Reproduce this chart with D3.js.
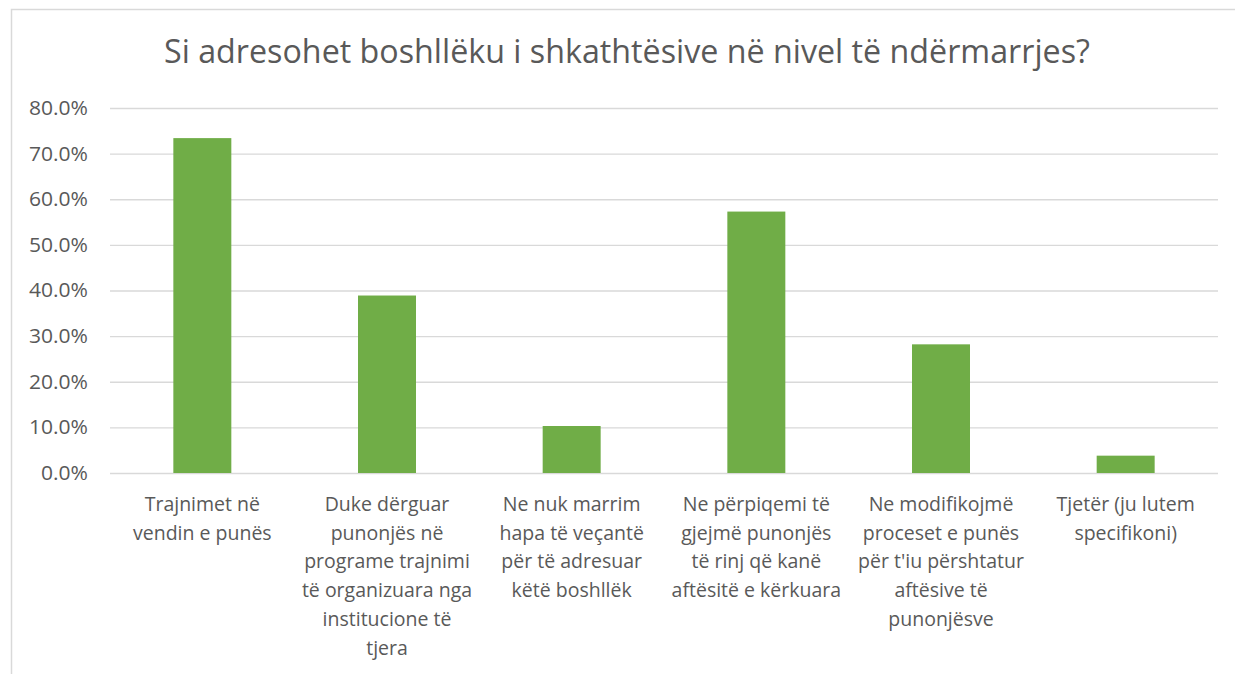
<!DOCTYPE html>
<html>
<head>
<meta charset="utf-8">
<script src="https://cdn.jsdelivr.net/npm/d3@7"></script>
<style>
  body { margin: 0; background: #fff; }
  text { font-family: "Open Sans", "Noto Sans", sans-serif; }
</style>
</head>
<body>
<div id="chart"></div>
<script>
// Chart data
var title = 'Si adresohet boshllëku i shkathtësive në nivel të ndërmarrjes?';

var categories = [
  ['Trajnimet në', 'vendin e punës'],
  ['Duke dërguar', 'punonjës në', 'programe trajnimi', 'të organizuara nga', 'institucione të', 'tjera'],
  ['Ne nuk marrim', 'hapa të veçantë', 'për të adresuar', 'këtë boshllëk'],
  ['Ne përpiqemi të', 'gjejmë punonjës', 'të rinj që kanë', 'aftësitë e kërkuara'],
  ['Ne modifikojmë', 'proceset e punës', "për t'iu përshtatur", 'aftësive të', 'punonjësve'],
  ['Tjetër (ju lutem', 'specifikoni)']
];

var values = [0.734, 0.389, 0.103, 0.573, 0.282, 0.038];

var yTicks = [0, 0.1, 0.2, 0.3, 0.4, 0.5, 0.6, 0.7, 0.8];

var width = 1235;
var height = 674;
var margins = { top: 108, right: 17, bottom: 201, left: 110 };
var plotW = width - margins.left - margins.right;
var plotH = height - margins.top - margins.bottom;

var svg = d3.select('#chart').append('svg')
            .attr('width', width)
            .attr('height', height);

// Chart area border (only top and left edges are visible in the frame)
svg.append('path')
   .attr('d', 'M11.5,' + height + 'V9.5H' + width)
   .attr('fill', 'none')
   .attr('stroke', '#d9d9d9')
   .attr('stroke-width', 1.5);

// Title, stretched to the width seen in the picture
svg.append('text')
   .attr('x', 627)
   .attr('y', 63)
   .attr('text-anchor', 'middle')
   .attr('font-size', 33)
   .attr('fill', '#595959')
   .attr('textLength', 926)
   .attr('lengthAdjust', 'spacingAndGlyphs')
   .text(title);

var x = d3.scaleBand()
          .domain(d3.range(categories.length))
          .range([0, plotW])
          .paddingInner(0.686)
          .paddingOuter(0.343);

var y = d3.scaleLinear()
          .domain([0, 0.8])
          .range([plotH, 0]);

var g = svg.append('g')
           .attr('transform', 'translate(' + margins.left + ',' + margins.top + ')');

// Gridlines and y labels through a left axis
var yAxis = d3.axisLeft(y)
              .tickValues(yTicks)
              .tickSizeInner(-plotW)
              .tickSizeOuter(0)
              .tickPadding(22)
              .tickFormat(d3.format('.1%'));

var yg = g.append('g').call(yAxis);
yg.select('.domain').remove();
yg.selectAll('.tick line')
  .attr('stroke', '#d9d9d9')
  .attr('stroke-width', 1.3);
yg.selectAll('.tick text')
  .attr('fill', '#595959')
  .attr('font-size', 20)
  .attr('textLength', 59)
  .attr('lengthAdjust', 'spacingAndGlyphs')
  .style('font-family', '"Open Sans", sans-serif');
// 0.0% is narrower than the others
yg.selectAll('.tick text')
  .filter(function(d) { return d === 0; })
  .attr('textLength', 47);

// Bars
g.selectAll('rect.bar')
 .data(values)
 .enter()
 .append('rect')
 .attr('class', 'bar')
 .attr('x', function(_, i) { return x(i); })
 .attr('width', x.bandwidth())
 .attr('y', function(d) { return y(d); })
 .attr('height', function(d) { return y(0) - y(d); })
 .attr('fill', '#70ad47');

// Category labels, one tspan per line
var labels = g.selectAll('text.cat')
              .data(categories)
              .enter()
              .append('text')
              .attr('class', 'cat')
              .attr('text-anchor', 'middle')
              .attr('font-size', 19.5)
              .attr('fill', '#595959')
              .attr('transform', function(_, i) {
                return 'translate(' + (x(i) + x.bandwidth() / 2) + ',' + (plotH + 38) + ')';
              });

labels.selectAll('tspan')
      .data(function(d) { return d; })
      .enter()
      .append('tspan')
      .attr('x', 0)
      .attr('y', function(_, j) { return j * 28.7; })
      .text(function(d) { return d; });
</script>
</body>
</html>
